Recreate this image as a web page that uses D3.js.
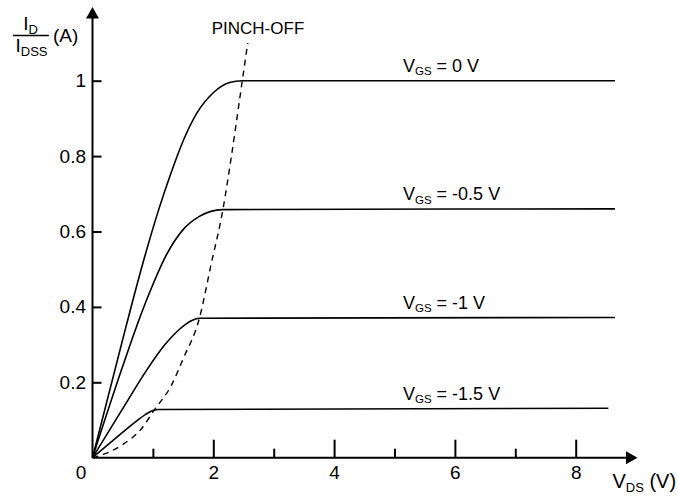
<!DOCTYPE html>
<html>
<head>
<meta charset="utf-8">
<script src="https://cdn.jsdelivr.net/npm/d3@7"></script>
<style>
  body { margin: 0; background: #fff; }
  text { font-family: "Liberation Sans", Arial, sans-serif; fill: #000; }
</style>
</head>
<body>
<div id="chart"></div>
<script>
// curve data: V_DS (V) vs I_D / I_DSS
const vgsLabels = ["0", "-0.5", "-1", "-1.5"];

const vds0 = [0, 0.55, 0.85, 1.1, 1.3, 1.5, 1.72, 2.0, 2.27, 2.48, 8.65];
const id0  = [0, 0.345, 0.525, 0.66, 0.755, 0.84, 0.912, 0.968, 0.995, 1.0, 1.0];

const vds05 = [0, 0.48, 0.7, 0.95, 1.23, 1.5, 1.77, 2.15, 8.65];
const id05  = [0, 0.233, 0.335, 0.44, 0.54, 0.605, 0.64, 0.658, 0.66];

const vds1 = [0, 0.5, 0.9, 1.2, 1.45, 1.62, 1.77, 8.65];
const id1  = [0, 0.13, 0.233, 0.3, 0.342, 0.362, 0.37, 0.372];

const vds15 = [0, 0.35, 0.68, 0.88, 1.0, 1.1, 8.54];
const id15  = [0, 0.047, 0.091, 0.115, 0.125, 0.128, 0.131];

// pinch-off locus (dashed)
const vdsPinch = [0, 0.2, 0.5, 0.8, 1.03, 1.3, 1.5, 1.77, 1.96, 2.16, 2.3, 2.48, 2.57];
const idPinch  = [0, 0.01, 0.035, 0.075, 0.128, 0.19, 0.262, 0.37, 0.51, 0.659, 0.8, 1.0, 1.1];

const xMajorTicks = [2, 4, 6, 8];
const xMinorTicks = [1, 3, 5, 7];
const yTicks = [0.2, 0.4, 0.6, 0.8, 1];

const width = 678, height = 496;

const svg = d3.select("#chart")
    .append("svg")
    .attr("width", width)
    .attr("height", height);

const x = d3.scaleLinear().domain([0, 8]).range([92.5, 575.7]);
const y = d3.scaleLinear().domain([0, 1]).range([457.7, 80.7]);

const series = [
    { label: vgsLabels[0], vds: vds0, id: id0 },
    { label: vgsLabels[1], vds: vds05, id: id05 },
    { label: vgsLabels[2], vds: vds1, id: id1 },
    { label: vgsLabels[3], vds: vds15, id: id15 }
];

const line = d3.line()
    .x(d => x(d[0]))
    .y(d => y(d[1]))
    .curve(d3.curveMonotoneX);

// axes
const xMajor = svg.append("g")
    .attr("transform", `translate(0,${y(0)})`)
    .call(d3.axisBottom(x).tickValues(xMajorTicks).tickSizeInner(-18).tickSizeOuter(0).tickPadding(8).tickFormat(d => d));
const xMinor = svg.append("g")
    .attr("transform", `translate(0,${y(0)})`)
    .call(d3.axisBottom(x).tickValues(xMinorTicks).tickSizeInner(-9).tickSizeOuter(0).tickFormat(""));
const yAxis = svg.append("g")
    .attr("transform", `translate(${x(0)},0)`)
    .call(d3.axisLeft(y).tickValues(yTicks).tickSizeInner(-9).tickSizeOuter(0).tickPadding(6.5).tickFormat(d => String(d)));

[xMajor, xMinor, yAxis].forEach(g => {
    g.select(".domain").remove();
    g.selectAll(".tick line").attr("stroke", "#000").attr("stroke-width", 2);
    g.selectAll(".tick text")
        .style("font-family", '"Liberation Sans", Arial, sans-serif')
        .style("font-size", "19px")
        .attr("fill", "#000");
});

svg.append("text")
    .attr("x", 81)
    .attr("y", 479.3)
    .attr("text-anchor", "middle")
    .style("font-size", "19px")
    .text("0");

// axis lines with arrow heads
svg.append("line")
    .attr("x1", x(0)).attr("y1", y(0))
    .attr("x2", 627).attr("y2", y(0))
    .attr("stroke", "#000").attr("stroke-width", 2);
svg.append("path")
    .attr("d", `M626,${y(0) - 6.5}L637.5,${y(0)}L626,${y(0) + 6.5}Z`)
    .attr("fill", "#000");

svg.append("line")
    .attr("x1", x(0)).attr("y1", y(0))
    .attr("x2", x(0)).attr("y2", 17)
    .attr("stroke", "#000").attr("stroke-width", 2);
svg.append("path")
    .attr("d", `M${x(0) - 6.5},18.5L${x(0)},7L${x(0) + 6.5},18.5Z`)
    .attr("fill", "#000");

// curves
svg.selectAll(".curve")
    .data(series)
    .join("path")
    .attr("class", "curve")
    .attr("fill", "none")
    .attr("stroke", "#000")
    .attr("stroke-width", 1.6)
    .attr("d", d => line(d3.zip(d.vds, d.id)));

svg.append("path")
    .attr("fill", "none")
    .attr("stroke", "#000")
    .attr("stroke-width", 1.4)
    .attr("stroke-dasharray", "6,5")
    .attr("d", line(d3.zip(vdsPinch, idPinch)));

// curve labels
const labelX = 5.14;
svg.selectAll(".vgs")
    .data(series)
    .join("text")
    .attr("class", "vgs")
    .attr("x", x(labelX))
    .attr("y", d => y(d.id[d.id.length - 1]) - 8.8)
    .style("font-size", "18px")
    .each(function(d) {
        const t = d3.select(this);
        t.append("tspan").text("V");
        t.append("tspan").attr("dy", 3.5).style("font-size", "11.5px").text("GS");
        t.append("tspan").attr("dy", -3.5).text(` = ${d.label} V`);
    });

svg.append("text")
    .attr("x", 258)
    .attr("y", 34)
    .attr("text-anchor", "middle")
    .style("font-size", "17px")
    .text("PINCH-OFF");

// y axis label: I_D / I_DSS (A)
const yl = svg.append("g");
const num = yl.append("text").attr("x", 30.5).attr("y", 30).attr("text-anchor", "middle").style("font-size", "19px");
num.append("tspan").text("I");
num.append("tspan").attr("dy", 4).style("font-size", "13px").text("D");
yl.append("line")
    .attr("x1", 13).attr("x2", 49)
    .attr("y1", 35.5).attr("y2", 35.5)
    .attr("stroke", "#000").attr("stroke-width", 1.4);
const den = yl.append("text").attr("x", 31.5).attr("y", 52).attr("text-anchor", "middle").style("font-size", "19px");
den.append("tspan").text("I");
den.append("tspan").attr("dy", 4).style("font-size", "13px").text("DSS");
yl.append("text")
    .attr("x", 53)
    .attr("y", 42)
    .style("font-size", "19px")
    .text("(A)");

// x axis label: V_DS (V)
const xl = svg.append("text")
    .attr("x", 612.5)
    .attr("y", 488.3)
    .style("font-size", "20px");
xl.append("tspan").text("V");
xl.append("tspan").attr("dy", 4).style("font-size", "13px").text("DS");
xl.append("tspan").attr("dy", -4).text(" (V)");
</script>
</body>
</html>
